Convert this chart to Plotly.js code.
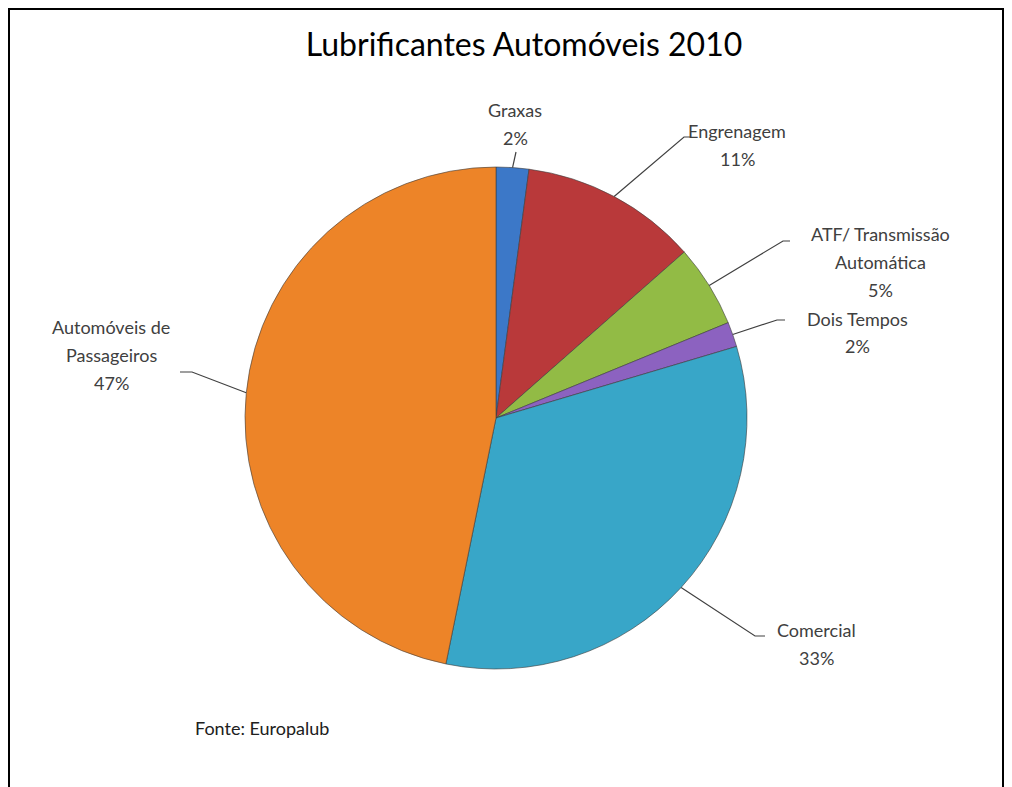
<!DOCTYPE html>
<html>
<head>
<meta charset="utf-8">
<script src="https://cdn.plot.ly/plotly-3.0.1.min.js"></script>
<style>
  body { margin: 0; background: #fff; }
  #chart { width: 1012px; height: 787px; }
</style>
</head>
<body>
<div id="chart"></div>
<script>
// slices, clockwise from 12 o'clock
const labels = ['Graxas', 'Engrenagem', 'ATF/ Transmissão<br>Automática', 'Dois Tempos', 'Comercial', 'Automóveis de<br>Passageiros'];
const values = [2.1, 11.4, 5.3, 1.6, 32.8, 46.8];
const colors = ['#3c78c8', '#b9393a', '#92bb45', '#8c62c0', '#38a6c8', '#ed8428'];

// where each label block is centred and where its leader line bends (pixels)
const labelPos = [[515, 124], [737, 144.5], [880, 262], [857, 332.5], [816, 644], [111, 355]];
const elbows = [[516, 152], [684, 137], [783, 241], [777, 320], [755, 636], [192, 372]];
const elbowEnds = [[516, 152], [690, 137], [790, 241], [785, 320], [765, 636], [180, 372]];

const W = 1012, H = 787;
const cx = 496, cy = 418, R = 251;
const lineGap = 28;
const px = x => x / W;
const py = y => 1 - y / H;
const labelFont = { family: 'Lato, sans-serif', size: 18, color: '#404040' };

const total = values.reduce((a, b) => a + b, 0);

const trace = {
    type: 'pie',
    labels: labels,
    values: values,
    sort: false,
    direction: 'clockwise',
    rotation: 0,
    textinfo: 'none',
    hoverinfo: 'label+percent',
    marker: { colors: colors, line: { color: 'rgba(60,60,60,0.6)', width: 1 } },
    domain: { x: [(cx - R) / W, (cx + R) / W], y: [(H - cy - R) / H, (H - cy + R) / H] },
    showlegend: false
};

// leader lines start at the slice edge, at the mid angle of each slice
const shapes = [];
const annotations = [];
let cum = 0;
values.forEach((v, i) => {
    const mid = (cum + v / 2) / total * 2 * Math.PI;
    cum += v;
    const ex = cx + R * Math.sin(mid);
    const ey = cy - R * Math.cos(mid);
    const pct = Math.round(v / total * 100) + '%';
    shapes.push({
        type: 'path', xref: 'paper', yref: 'paper',
        path: `M ${px(ex)} ${py(ey)} L ${px(elbows[i][0])} ${py(elbows[i][1])} L ${px(elbowEnds[i][0])} ${py(elbowEnds[i][1])}`,
        line: { color: '#404040', width: 1.2 }
    });
    // one annotation per text line so the spacing matches
    const lines = labels[i].split('<br>').concat([pct]);
    lines.forEach((t, k) => {
        const y = labelPos[i][1] + (k - (lines.length - 1) / 2) * lineGap;
        annotations.push({
            xref: 'paper', yref: 'paper',
            x: px(labelPos[i][0]), y: py(y),
            xanchor: 'center', yanchor: 'middle',
            text: t, showarrow: false,
            font: labelFont
        });
    });
});

annotations.push({
    xref: 'paper', yref: 'paper', x: px(193), y: py(728),
    xanchor: 'left', yanchor: 'middle', showarrow: false,
    text: 'Fonte: Europalub',
    font: { family: 'Lato, sans-serif', size: 18, color: '#202020' }
});

// chart frame
shapes.push({
    type: 'rect', xref: 'paper', yref: 'paper',
    x0: px(9), x1: px(1003), y0: py(800), y1: py(9),
    line: { color: '#000', width: 2 }
});

const layout = {
    width: W, height: H,
    margin: { l: 0, r: 0, t: 0, b: 0 },
    paper_bgcolor: '#fff',
    title: {
        text: 'Lubrificantes Automóveis 2010',
        x: px(524), xanchor: 'center', y: py(45), yanchor: 'middle',
        font: { family: 'Lato, sans-serif', size: 32, color: '#000' }
    },
    shapes: shapes,
    annotations: annotations
};

Plotly.newPlot('chart', [trace], layout, { displayModeBar: false });
</script>
</body>
</html>
